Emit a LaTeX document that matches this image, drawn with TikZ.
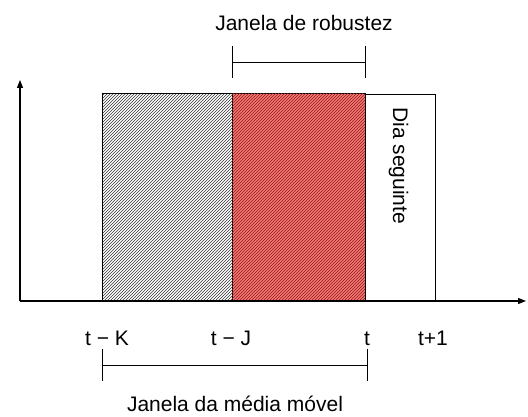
\documentclass[tikz,border=0pt]{standalone}
\usepackage{fontspec}
\setmainfont{Liberation Sans}
\usetikzlibrary{arrows.meta,positioning,patterns}
\definecolor{windowred}{RGB}{246,118,114}
\definecolor{hatchred}{RGB}{140,30,30}

\begin{document}
\begin{tikzpicture}[x=1pt,y=-1pt,
 axis/.style={-{Triangle[length=8pt,width=6pt]},line width=1.3pt},
 oldbox/.style={draw,line width=1pt,inner sep=0pt,outer sep=0pt,minimum height=207pt,pattern=north east lines,pattern color=black!80},
 redbox/.style={draw,line width=1pt,inner sep=0pt,outer sep=0pt,minimum height=207pt,fill=windowred,postaction={pattern=north east lines,pattern color=hatchred}},
 nextbox/.style={draw,line width=0.8pt,inner sep=0pt,outer sep=0pt,minimum height=207pt,fill=white},
 lbl/.style={font=\fontsize{21}{24}\selectfont,inner sep=0pt,anchor=base},
 span/.style={line width=0.8pt}
]
\useasboundingbox (0,0) rectangle (528,417);
\node[oldbox,minimum width=130pt,anchor=south west] (past) at (102,301) {};
\node[redbox,minimum width=133pt,right=0pt of past] (robust) {};
\node[nextbox,minimum width=70pt,right=0pt of robust] (next) {};
\node[lbl,rotate=-90,anchor=base west] (nextlbl) at (393,107) {Dia seguinte};
% axes
\coordinate (origin) at (20,301);
\coordinate (xend) at (526,301);
\coordinate (yend) at (20,80);
\draw[axis] (origin) -- (xend);
\draw[axis] (origin) -- (yend);
% time labels
\node[lbl] (tK) at (107,345) {t − K};
\node[lbl] (tJ) at (231,345) {t − J};
\node[lbl] (t0) at (367,345) {t};
\node[lbl] (t1) at (433,345) {t+1};
% window spans
\path (robust.north west) ++(0,-32) coordinate (robl);
\path (robust.north east) ++(0,-32) coordinate (robr);
\draw[span] (robl) -- (robr);
\draw[span] (robl) ++(0,-16) -- ++(0,32);
\draw[span] (robr) ++(0,-16) -- ++(0,32);
\node[lbl] (roblbl) at (304,31) {Janela de robustez};
\path (past.south west) ++(0,64) coordinate (avgl);
\path (robust.south east) ++(2,64) coordinate (avgr);
\draw[span] (avgl) -- (avgr);
\draw[span] (avgl) ++(0,-16) -- ++(0,32);
\draw[span] (avgr) ++(0,-16) -- ++(0,32);
\node[lbl] (avglbl) at (235,411) {Janela da média móvel};
\end{tikzpicture}
\end{document}
